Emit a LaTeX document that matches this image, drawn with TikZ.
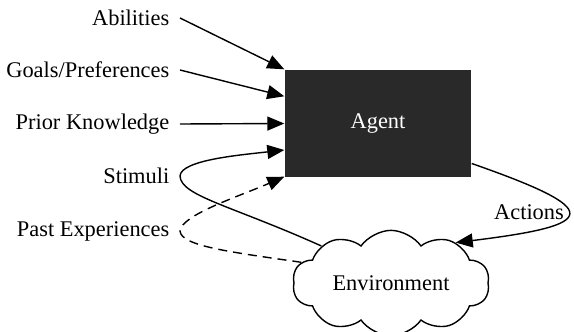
\documentclass[tikz,border=0pt]{standalone}
\usepackage{fontspec}
\setmainfont{Liberation Serif}
\usetikzlibrary{shapes,arrows.meta}

\begin{document}
\begin{tikzpicture}[x=1pt,y=-1pt,
    line width=1.4pt,
    >={Triangle[length=17pt,width=14pt]},
    agentbox/.style={rectangle, draw=none, fill=black!84, text=white,
    minimum width=186pt, minimum height=107pt},
    envcloud/.style={cloud, draw, cloud puffs=10, cloud puff arc=110, aspect=2,
    minimum width=197pt, minimum height=98pt, inner sep=0pt},
    input/.style={anchor=east, inner ysep=2pt, inner xsep=10pt}]
    \tikzstyle{every node}=[font=\fontsize{22.4}{26}\selectfont]
    \useasboundingbox (0,0) rectangle (574,332);
    % the agent and its world
    \node[agentbox] (agent) at (378,123.5) {Agent};
    \node[envcloud] (env) at (391,283) {Environment};
    % what goes into the agent
    \node[input] (abil) at (180,18) {Abilities};
    \node[input] (goals) at (180,70) {Goals/Preferences};
    \node[input] (prior) at (180,124) {Prior Knowledge};
    \node[input] (stim) at (180,176) {Stimuli};
    \node[input] (past) at (180,231) {Past Experiences};
    \node (act) at (529,212) {Actions};
    \draw[->] (abil.east) -- (agent.north west);
    \draw[->] (goals.east) -- ([yshift=-27pt]agent.north west);
    \draw[->] (prior.east) -- (agent.west);
    \draw[->] (env.152) .. controls (230,205) and (181,196) .. (stim.east)
        .. controls (181,160) and (240,155) .. ([yshift=-26.5pt]agent.west);
    \draw[->, dashed, dash pattern=on 9pt off 6pt] (env.167) .. controls (230,252) and (181,246) .. (past.east)
        .. controls (181,215) and (240,196) .. ([yshift=1pt]agent.south west);
    % what comes out of it
    \draw[->] ([yshift=-40pt]agent.east) .. controls (605,210) and (600,225) .. (env.32);
\end{tikzpicture}
\end{document}
